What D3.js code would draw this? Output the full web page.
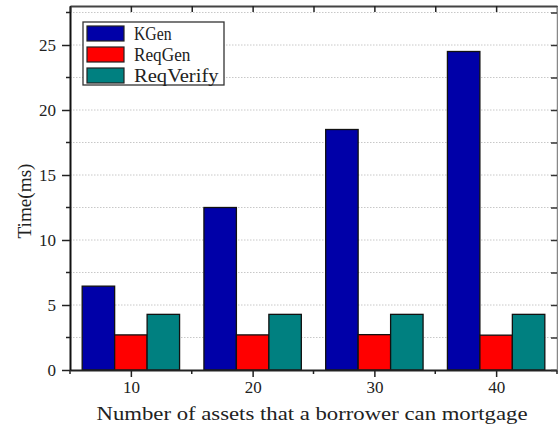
<!DOCTYPE html>
<html>
<head>
<meta charset="utf-8">
<script src="https://cdn.jsdelivr.net/npm/d3@7"></script>
<style>
    body { margin: 0; background: #fff; }
    svg text { font-family: "Liberation Serif", "DejaVu Serif", serif; }
    .grid line { stroke: #c8c8c8; stroke-dasharray: 1.5 1.5; }
    .bar { stroke: #111; stroke-width: 1.3; }
</style>
</head>
<body>
<svg id="chart" width="558" height="425"></svg>
<script>
const categories = [10, 20, 30, 40];
const seriesNames = ["KGen", "ReqGen", "ReqVerify"];
const kgen = [6.45, 12.5, 18.5, 24.5];
const reqgen = [2.7, 2.7, 2.72, 2.68];
const reqverify = [4.28, 4.28, 4.28, 4.28];
const yTicks = [0, 5, 10, 15, 20, 25];
const colors = ["#0000a8", "#ff0000", "#008080"];

class GroupedBars {

    constructor(svg) {
        this.svg = svg;
        this.margin = { left: 70, right: 1, top: 6, bottom: 55 };
        this.width = +svg.attr("width");
        this.height = +svg.attr("height");
        this.x = d3.scaleLinear()
            .domain([5, 45])
            .range([this.margin.left, this.width - this.margin.right]);
        this.y = d3.scaleLinear()
            .domain([0, 28])
            .range([this.height - this.margin.bottom, this.margin.top]);
        this.series = [kgen, reqgen, reqverify];

        this.drawGrid();
        this.drawBars();
        this.drawAxes();
        this.drawLegend();
        this.drawTitles();
    }

    drawGrid() {
        let gridValues = d3.range(2.5, 28, 2.5);
        this.svg.append("g")
            .classed("grid", true)
            .selectAll("line")
            .data(gridValues)
            .enter()
            .append("line")
                .attr("x1", this.x(5))
                .attr("x2", this.x(45))
                .attr("y1", d => this.y(d))
                .attr("y2", d => this.y(d));
    }

    drawBars() {
        // each group spans 8 units around its category
        let inner = d3.scaleBand()
            .domain(seriesNames)
            .range([-4, 4]);
        let rows = [];
        categories.forEach((c, i) => {
            seriesNames.forEach((s, j) => {
                rows.push({ cat: c, name: s, value: this.series[j][i], color: colors[j] });
            });
        });
        this.svg.append("g")
            .selectAll("rect.bar")
            .data(rows)
            .enter()
            .append("rect")
                .classed("bar", true)
                .attr("x", d => this.x(d.cat + inner(d.name)))
                .attr("width", d => this.x(d.cat + inner(d.name) + inner.bandwidth()) - this.x(d.cat + inner(d.name)))
                .attr("y", d => this.y(d.value))
                .attr("height", d => this.y(0) - this.y(d.value))
                .attr("fill", d => d.color);
    }

    styleLabels(axis) {
        axis.attr("font-size", null).attr("font-family", null);
        axis.selectAll(".tick text")
            .style("font-size", "17px")
            .style("font-family", "'Liberation Serif', serif")
            .style("fill", "#222");
    }

    drawAxes() {
        let x0 = this.x(5), x1 = this.x(45), y0 = this.y(0), y1 = this.y(28);
        let minorY = d3.range(2.5, 28, 5);
        let minorX = [5, 15, 25, 35, 45];

        // bottom axis
        let bottom = this.svg.append("g")
            .attr("transform", `translate(0,${y0})`)
            .call(d3.axisBottom(this.x).tickValues(categories).tickSize(7).tickPadding(4).tickSizeOuter(0));
        bottom.selectAll(".tick line").attr("stroke", "#222").attr("stroke-width", 1.5);
        this.styleLabels(bottom);
        bottom.append("g").selectAll("line").data(minorX).enter().append("line")
            .attr("x1", d => this.x(d)).attr("x2", d => this.x(d))
            .attr("y1", 0).attr("y2", 4).attr("stroke", "#222").attr("stroke-width", 1.5);

        // left axis
        let left = this.svg.append("g")
            .attr("transform", `translate(${x0},0)`)
            .call(d3.axisLeft(this.y).tickValues(yTicks).tickSize(8).tickPadding(6).tickSizeOuter(0));
        left.selectAll(".tick line").attr("stroke", "#222").attr("stroke-width", 1.5);
        this.styleLabels(left);
        left.append("g").selectAll("line").data(minorY).enter().append("line")
            .attr("y1", d => this.y(d)).attr("y2", d => this.y(d))
            .attr("x1", 0).attr("x2", -4).attr("stroke", "#222").attr("stroke-width", 1.5);

        // top axis, ticks inward
        let top = this.svg.append("g")
            .attr("transform", `translate(0,${y1})`)
            .call(d3.axisBottom(this.x).tickValues(categories.concat(minorX)).tickSize(6).tickFormat("").tickSizeOuter(0));
        top.selectAll(".tick line").attr("stroke", "#222").attr("stroke-width", 1.5);

        // right axis, ticks inward
        let right = this.svg.append("g")
            .attr("transform", `translate(${x1},0)`)
            .call(d3.axisLeft(this.y).tickValues(yTicks.concat(minorY)).tickSize(6).tickFormat("").tickSizeOuter(0));
        right.selectAll(".tick line").attr("stroke", "#333").attr("stroke-width", 1.5);

        bottom.select(".domain").attr("stroke", "#222").attr("stroke-width", 2);
        left.select(".domain").attr("stroke", "#111").attr("stroke-width", 2);
        top.select(".domain").attr("stroke", "#444").attr("stroke-width", 2);
        right.select(".domain").attr("stroke", "#888").attr("stroke-width", 1.5);
    }

    drawLegend() {
        let legend = this.svg.append("g")
            .attr("transform", "translate(83,22)");
        legend.append("rect")
            .attr("width", 141)
            .attr("height", 63)
            .attr("fill", "#fff")
            .attr("stroke", "#333")
            .attr("stroke-width", 1.3);
        let items = legend.selectAll("g.item")
            .data(seriesNames)
            .enter()
            .append("g")
                .attr("transform", (d, i) => `translate(4,${4 + i * 21})`);
        items.append("rect")
            .attr("width", 37)
            .attr("height", 15)
            .attr("fill", (d, i) => colors[i])
            .attr("stroke", "#222")
            .attr("stroke-width", 1.2);
        items.append("text")
            .attr("x", 47)
            .attr("y", 14)
            .attr("font-size", 19.5)
            .attr("fill", "#222")
            .attr("textLength", d => d.length * 9.4)
            .attr("lengthAdjust", "spacingAndGlyphs")
            .text(d => d);
    }

    drawTitles() {
        this.svg.append("text")
            .attr("x", 312)
            .attr("y", 420)
            .attr("text-anchor", "middle")
            .attr("font-size", 19)
            .attr("fill", "#222")
            .attr("textLength", 431)
            .attr("lengthAdjust", "spacingAndGlyphs")
            .text("Number of assets that a borrower can mortgage");
        this.svg.append("text")
            .attr("transform", "translate(31,201) rotate(-90)")
            .attr("text-anchor", "middle")
            .attr("font-size", 19)
            .attr("fill", "#222")
            .attr("textLength", 75)
            .attr("lengthAdjust", "spacingAndGlyphs")
            .text("Time(ms)");
    }
}

new GroupedBars(d3.select("#chart"));
</script>
</body>
</html>
